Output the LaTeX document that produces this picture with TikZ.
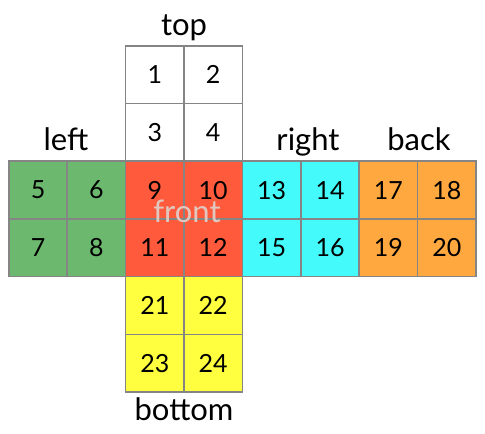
\documentclass[tikz,border=0pt]{standalone}
\usepackage{fontspec}
\setmainfont{Lato}
\definecolor{cgreen}{HTML}{6CB86F}
\definecolor{cred}{HTML}{FF5A3C}
\definecolor{ccyan}{HTML}{44FAFA}
\definecolor{corange}{HTML}{FFA840}
\definecolor{cyellow}{HTML}{FFFF40}
\definecolor{cwhite}{HTML}{FFFFFF}
\definecolor{cborder}{HTML}{858585}
\definecolor{cfront}{HTML}{E0C8C0}
\tikzset{
  cell/.style={draw=cborder, line width=1.6pt, minimum width=58.4pt, minimum height=57.7pt, inner sep=0pt, font=\fontsize{25}{25}\selectfont, anchor=north west},
  facelabel/.style={font=\fontsize{31}{31}\selectfont, anchor=base, inner sep=0pt},
}
\begin{document}
\begin{tikzpicture}[x=1pt,y=-1pt]
\useasboundingbox (0,0) rectangle (485,434);
\fill[white] (0,0) rectangle (485,434);
% cells: number/col/row/colour
\foreach \n/\c/\r/\col in {1/2/0/cwhite,2/3/0/cwhite,3/2/1/cwhite,4/3/1/cwhite,
  5/0/2/cgreen,6/1/2/cgreen,7/0/3/cgreen,8/1/3/cgreen,
  9/2/2/cred,10/3/2/cred,11/2/3/cred,12/3/3/cred,
  13/4/2/ccyan,14/5/2/ccyan,15/4/3/ccyan,16/5/3/ccyan,
  17/6/2/corange,18/7/2/corange,19/6/3/corange,20/7/3/corange,
  21/2/4/cyellow,22/3/4/cyellow,23/2/5/cyellow,24/3/5/cyellow}
  \node[cell, fill=\col] (c\n) at ({8+58.4*\c},{45+57.7*\r}) {\n};
\node[facelabel] (ltop) at (184,35) {top};
\node[facelabel] (lleft) at (66,150) {left};
\node[facelabel] (lright) at (308,150) {right};
\node[facelabel] (lback) at (419,150) {back};
\node[facelabel] (lbottom) at (184,420) {bottom};
\node[facelabel, text=cfront] (lfront) at (187,222) {front};
\end{tikzpicture}
\end{document}
